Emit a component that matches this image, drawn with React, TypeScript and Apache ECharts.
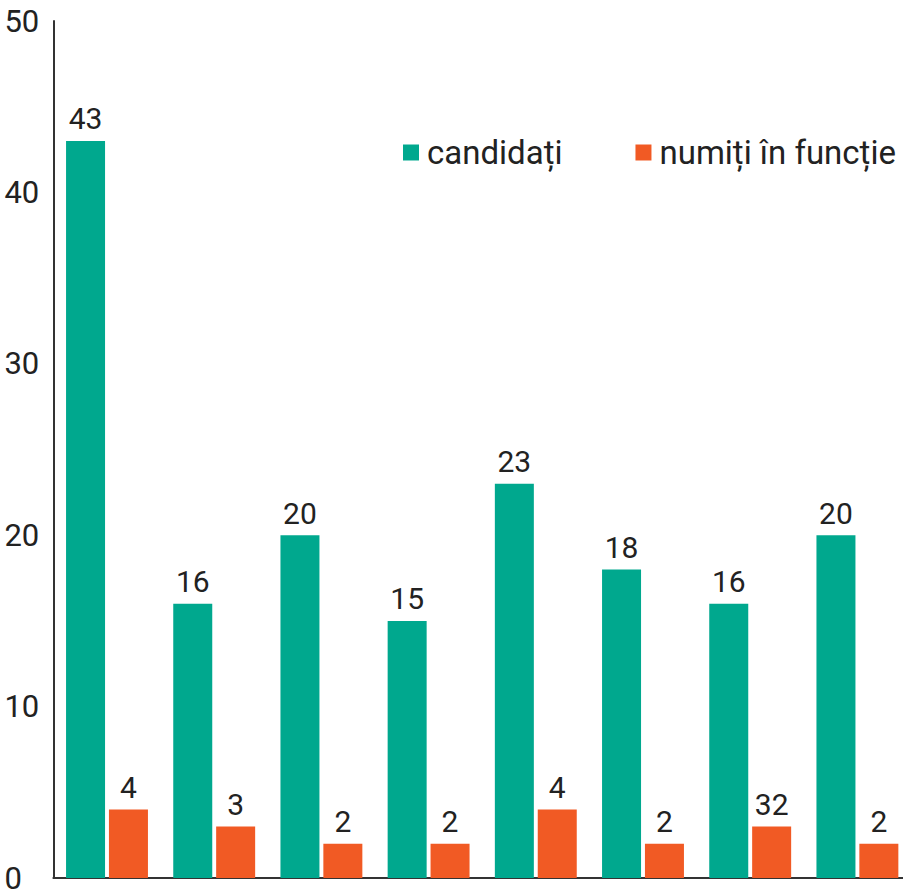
import React, { useEffect, useRef } from "react";
import * as echarts from "echarts";

const categories = ["1", "2", "3", "4", "5", "6", "7", "8"];
const candidatiValues = [43, 16, 20, 15, 23, 18, 16, 20];
const numitiValues = [4, 3, 2, 2, 4, 2, 3, 2];
const numitiLabels = ["4", "3", "2", "2", "4", "2", "32", "2"];
const yTicks = [0, 10, 20, 30, 40, 50];

const GREEN = "#00a88e";
const ORANGE = "#f15a24";
const TEXT = "#222222";

export default function App() {
  const ref = useRef<HTMLDivElement>(null);
  useEffect(() => {
    document.body.style.margin = "0";
    const chart = echarts.init(ref.current!, null, { renderer: "svg" });
    chart.setOption({
      animation: false,
      textStyle: { fontFamily: "Roboto" },
      legend: {
        left: 398,
        top: 131,
        itemWidth: 16,
        itemHeight: 16,
        itemGap: 73,
        icon: "rect",
        textStyle: { fontSize: 33, color: TEXT, fontFamily: "Roboto", padding: [0, 0, 0, 3] },
        data: ["candidați", "numiți în funcție"],
      },
      grid: {
        left: 53.4,
        right: -8,
        top: 21,
        bottom: 18,
        containLabel: false,
        outerBoundsMode: "none",
      },
      xAxis: {
        type: "category",
        data: categories,
        axisLine: { show: true, lineStyle: { color: "#333333", width: 2 } },
        axisTick: { show: false },
        axisLabel: { show: false },
      },
      yAxis: {
        type: "value",
        min: yTicks[0],
        max: yTicks[yTicks.length - 1],
        interval: 10,
        axisLine: { show: true, lineStyle: { color: "#333333", width: 2 } },
        axisTick: { show: false },
        splitLine: { show: false },
        axisLabel: {
          show: true,
          fontSize: 31,
          color: TEXT,
          fontFamily: "Roboto",
          align: "left",
          margin: 49,
          padding: [12, 0, 0, 0],
        },
      },
      series: [
        {
          name: "candidați",
          type: "bar",
          data: candidatiValues,
          itemStyle: { color: GREEN },
          barGap: "10%",
          barCategoryGap: "23.6%",
          label: { show: true, position: "top", distance: 7, fontSize: 30, color: TEXT, fontFamily: "Roboto" },
        },
        {
          name: "numiți în funcție",
          type: "bar",
          data: numitiValues,
          itemStyle: { color: ORANGE },
          label: {
            show: true,
            position: "top",
            distance: 7,
            fontSize: 30,
            color: TEXT,
            fontFamily: "Roboto",
            formatter: (p: any) => numitiLabels[p.dataIndex],
          },
        },
      ],
    });
    return () => chart.dispose();
  }, []);
  return <div ref={ref} style={{ width: 903, height: 896 }} />;
}
